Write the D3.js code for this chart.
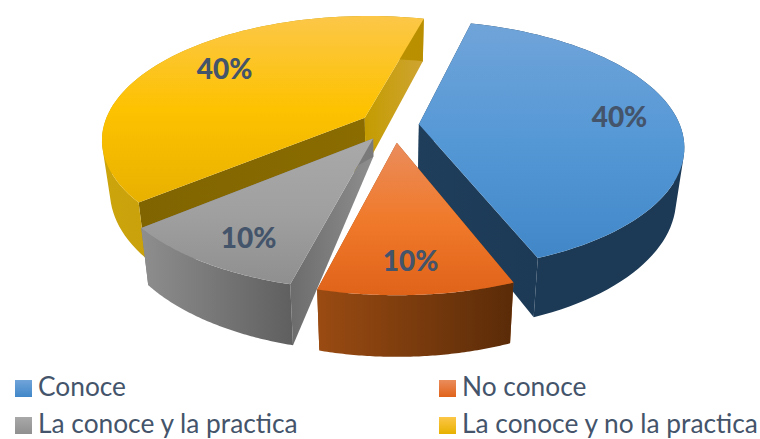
<!DOCTYPE html>
<html>
<head>
<meta charset="utf-8">
<script src="https://cdn.jsdelivr.net/npm/d3@7/dist/d3.min.js"></script>
<style>
html,body{margin:0;padding:0;background:#fff}
svg{display:block}
text{font-family:Lato,"Open Sans",sans-serif}
</style>
</head>
<body>
<svg id="chart" width="760" height="439"></svg>
<script>
const categories = ["Conoce", "No conoce", "La conoce y la practica", "La conoce y no la practica"];
const shares = [40, 10, 10, 40];

// Fill ramps for each wedge, one entry per category
const topRamps = [
  ["#70a4d9", "#5598d6", "#4187c8"],
  ["#ea8c5c", "#f07a2b", "#e0631a"],
  ["#a9a9a9", "#a0a0a0", "#8f8f8f"],
  ["#fcc748", "#fdc200", "#e8b100"]
];
const rimRamps = [
  ["#1c3a56", "#1c3a56"],
  ["#9a4b12", "#5a2b08"],
  ["#8e8e8e", "#5f5f5f"],
  ["#cca40c", "#b98f00"]
];
// Cut walls: the one at each wedge's start angle and the one at its end angle
const startWalls = [["#1f3e5b", "#1f3e5b"], ["#9a4b12", "#9a4b12"], ["#8e8e8e", "#6c6c6c"], ["#8a6c00", "#806400"]];
const endWalls = [["#1f3e5b", "#1c3a56"], ["#9a4b12", "#9a4b12"], ["#7a7a7a", "#7a7a7a"], ["#c49c00", "#cfa433"]];

// Pie geometry and tilted view
const rotation = 14.5 * Math.PI / 180;
const radius = 261, squash = 0.465, perspective = 0.17, cx = 390, cy = 126;
const explode = 29, thickness = 50, baseShrink = 0.972;
const wedgeShift = [[0, -1], [5, 3], [-1, 1], [-1, -1]];
const apexDepth = [1, 1, 0.36, 1];
const labelShift = [[2, -2], [-1, 6], [1, 8], [15, -3]];

const svg = d3.select("#chart");
const defs = svg.append("defs");

const wedges = d3.pie().sort(null).startAngle(rotation).endAngle(rotation + 2 * Math.PI)(shares);

function project(u, v, depth) {
  const s = 1 / (1 + perspective * v / radius);
  const x = u * s * (1 - (1 - baseShrink) * depth);
  const y = -squash * v * s + thickness * depth * s;
  return [cx + x, cy + y];
}

function wedgePoint(d, r, a, depth) {
  const mid = (d.startAngle + d.endAngle) / 2;
  const u = explode * Math.sin(mid) + r * Math.sin(a);
  const v = explode * Math.cos(mid) + r * Math.cos(a);
  const p = project(u, v, depth);
  return [p[0] + wedgeShift[d.index][0], p[1] + wedgeShift[d.index][1]];
}

const line = d3.line();

function gradient(id, stops, x1, y1, x2, y2) {
  const g = defs.append("linearGradient").attr("id", id)
    .attr("gradientUnits", "userSpaceOnUse")
    .attr("x1", x1).attr("y1", y1).attr("x2", x2).attr("y2", y2);
  stops.forEach((c, i) => g.append("stop").attr("offset", i / (stops.length - 1)).attr("stop-color", c));
  return `url(#${id})`;
}

function arcAngles(d) {
  return d3.range(0, 73).map(i => d.startAngle + (d.endAngle - d.startAngle) * i / 72);
}

// Rim strip: consistently wound quads so the silhouette between top and base stays filled
function rimPath(topArc, baseArc) {
  return d3.range(topArc.length - 1).map(j => {
    const quad = [topArc[j], topArc[j + 1], baseArc[j + 1], baseArc[j]];
    if (d3.polygonArea(quad) < 0) quad.reverse();
    return line(quad) + "Z";
  }).join("");
}

const paintOrder = [3, 0, 2, 1];

paintOrder.forEach(i => {
  const d = wedges[i];
  const g = svg.append("g").attr("class", "wedge");
  const angles = arcAngles(d);
  const topArc = angles.map(a => wedgePoint(d, radius, a, 0));
  const baseArc = angles.map(a => wedgePoint(d, radius, a, 1));
  const apexTop = wedgePoint(d, 0, 0, 0);
  const apexBase = wedgePoint(d, 0, 0, apexDepth[i]);
  const first = topArc[0], last = topArc[72];
  const firstB = baseArc[0], lastB = baseArc[72];

  // Cut walls running from the apex out to the rim
  const wallStart = [apexTop, first, firstB, apexBase];
  const wallEnd = [apexTop, last, lastB, apexBase];
  g.append("path").attr("d", line(wallStart) + "Z")
    .attr("fill", gradient(`wallStart${i}`, startWalls[i], apexTop[0], 0, first[0], 0));
  g.append("path").attr("d", line(wallEnd) + "Z")
    .attr("fill", gradient(`wallEnd${i}`, endWalls[i], apexTop[0], 0, last[0] + 0.01, 0));

  // Outer rim
  const xs = d3.extent(topArc.concat(baseArc), p => p[0]);
  g.append("path").attr("d", rimPath(topArc, baseArc))
    .attr("fill", gradient(`rim${i}`, rimRamps[i], xs[0], 0, xs[1], 0));

  // Top face
  const facePts = [apexTop].concat(topArc);
  const ys = d3.extent(facePts, p => p[1]);
  g.append("path").attr("d", line(facePts) + "Z")
    .attr("fill", gradient(`top${i}`, topRamps[i], 0, ys[0], 0, ys[1]));
});

// Percentage labels sit on each top face along the wedge's bisector
wedges.forEach(d => {
  const mid = (d.startAngle + d.endAngle) / 2;
  const p = wedgePoint(d, radius * 0.77, mid, 0);
  svg.append("text")
    .attr("x", p[0] + labelShift[d.index][0]).attr("y", p[1] + 10 + labelShift[d.index][1])
    .attr("text-anchor", "middle")
    .attr("font-size", 28).attr("font-weight", 900).attr("fill", "#44546a")
    .text(d.data + "%");
});

// Legend in two rows of two
const legendX = d3.scalePoint().domain([0, 1]).range([15, 439]);
const legendY = d3.scalePoint().domain([0, 1]).range([380, 417]);
categories.forEach((name, i) => {
  const x = legendX(i % 2), y = legendY(Math.floor(i / 2));
  svg.append("rect").attr("x", x).attr("y", y).attr("width", 17).attr("height", 17)
    .attr("fill", gradient(`key${i}`, [topRamps[i][0], topRamps[i][2]], 0, y, 0, y + 17));
  svg.append("text").attr("x", x + 23).attr("y", y + 16)
    .attr("font-size", 26.3).attr("fill", "#44546a").text(name);
});
</script>
</body>
</html>
